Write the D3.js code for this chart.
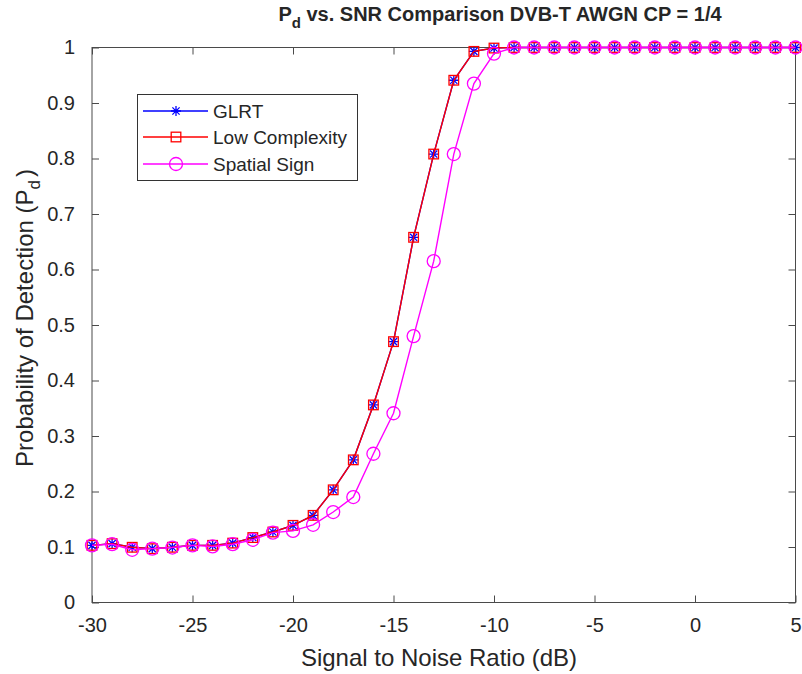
<!DOCTYPE html>
<html><head><meta charset="utf-8">
<script src="https://cdn.jsdelivr.net/npm/d3@7/dist/d3.min.js"></script>
<style>
body{margin:0;background:#fff}
svg{display:block}
text{font-family:"Liberation Sans",Arial,Helvetica,sans-serif;fill:#262626}
</style>
</head><body>
<svg id="chart" width="802" height="674"></svg>
<script>
// ---- data ----
const snrDb = [-30,-29,-28,-27,-26,-25,-24,-23,-22,-21,-20,-19,-18,-17,-16,-15,-14,-13,-12,-11,-10,-9,-8,-7,-6,-5,-4,-3,-2,-1,0,1,2,3,4,5];
const glrt = [0.103,0.106,0.0995,0.097,0.0995,0.103,0.103,0.107,0.117,0.127,0.139,0.157,0.203,0.257,0.356,0.470,0.658,0.808,0.941,0.993,0.999,1,1,1,1,1,1,1,1,1,1,1,1,1,1,1];
const lowComplexity = [0.103,0.106,0.0995,0.097,0.0995,0.103,0.103,0.107,0.117,0.127,0.139,0.157,0.203,0.257,0.356,0.470,0.658,0.808,0.941,0.993,0.999,1,1,1,1,1,1,1,1,1,1,1,1,1,1,1];
const spatialSign = [0.103,0.105,0.095,0.097,0.099,0.103,0.101,0.105,0.113,0.126,0.129,0.140,0.163,0.190,0.268,0.341,0.480,0.615,0.808,0.935,0.989,1,1,1,1,1,1,1,1,1,1,1,1,1,1,1];
const seriesNames = ["GLRT","Low Complexity","Spatial Sign"];
const xTicks = [-30,-25,-20,-15,-10,-5,0,5];
const yTicks = [0,0.1,0.2,0.3,0.4,0.5,0.6,0.7,0.8,0.9,1];

// ---- layout ----
const svg = d3.select("#chart");
const L = 92, R = 795.5, T = 47.5, B = 602.5;
const x = d3.scaleLinear().domain([-30,5]).range([L,R]);
const y = d3.scaleLinear().domain([0,1]).range([B,T]);
const axisColor = "#4a4a4a";
const tickFont = 20;

function styleAxis(g, showLabels){
  g.select(".domain").remove();
  g.selectAll(".tick line").attr("stroke",axisColor).attr("stroke-width",1);
  g.selectAll(".tick text").attr("fill","#262626").style("font-size",tickFont+"px")
    .style("font-family",'"Liberation Sans",Arial,Helvetica,sans-serif');
  if(!showLabels) g.selectAll(".tick text").remove();
}
const fmtY = d => d===0?"0":d===1?"1":d.toFixed(1);
const fmtX = d => String(d);

svg.append("g").attr("transform",`translate(0,${B})`)
  .call(d3.axisBottom(x).tickValues(xTicks).tickSizeInner(-7).tickSizeOuter(0).tickPadding(15).tickFormat(fmtX))
  .call(g=>styleAxis(g,true));
svg.append("g").attr("transform",`translate(0,${T})`)
  .call(d3.axisTop(x).tickValues(xTicks).tickSizeInner(-7).tickSizeOuter(0))
  .call(g=>styleAxis(g,false));
svg.append("g").attr("transform",`translate(${L},0)`)
  .call(d3.axisLeft(y).tickValues(yTicks).tickSizeInner(-7).tickSizeOuter(0).tickPadding(17).tickFormat(fmtY))
  .call(g=>styleAxis(g,true));
svg.append("g").attr("transform",`translate(${R},0)`)
  .call(d3.axisRight(y).tickValues(yTicks).tickSizeInner(-7).tickSizeOuter(0))
  .call(g=>styleAxis(g,false));

// box
svg.append("rect").attr("x",L).attr("y",T).attr("width",R-L).attr("height",B-T)
  .attr("fill","none").attr("stroke",axisColor).attr("stroke-width",1);

// ---- series ----
const line = d3.line().x((d,i)=>x(snrDb[i])).y(d=>y(d));
function asterisk(s){
  const d = s*0.72;
  return `M${-s},0L${s},0M0,${-s}L0,${s}M${-d},${-d}L${d},${d}M${-d},${d}L${d},${-d}`;
}
const series = [
  {name:seriesNames[0], vals:glrt, color:"#0000ff", marker:"star"},
  {name:seriesNames[1], vals:lowComplexity, color:"#ff0000", marker:"square"},
  {name:seriesNames[2], vals:spatialSign, color:"#ff00ff", marker:"circle"}
];
function drawMarker(g, type, color){
  if(type==="star") g.append("path").attr("d",asterisk(5)).attr("stroke",color).attr("stroke-width",1.3).attr("fill","none");
  else if(type==="square") g.append("rect").attr("x",-4.8).attr("y",-4.8).attr("width",9.6).attr("height",9.6).attr("stroke",color).attr("stroke-width",1.3).attr("fill","none");
  else g.append("circle").attr("r",6.5).attr("stroke",color).attr("stroke-width",1.3).attr("fill","none");
}
series.forEach(s=>{
  svg.append("path").datum(s.vals).attr("d",line).attr("fill","none").attr("stroke",s.color).attr("stroke-width",1.4);
  const mg = svg.append("g");
  s.vals.forEach((v,i)=>{
    const g = mg.append("g").attr("transform",`translate(${x(snrDb[i])},${y(v)})`);
    drawMarker(g, s.marker, s.color);
  });
});

// ---- legend ----
const lg = svg.append("g");
lg.append("rect").attr("x",137.5).attr("y",94.5).attr("width",220).attr("height",86)
  .attr("fill","#fff").attr("stroke","#333").attr("stroke-width",1);
const rowY = [111,137,164];
series.forEach((s,i)=>{
  lg.append("line").attr("x1",143).attr("x2",208).attr("y1",rowY[i]).attr("y2",rowY[i]).attr("stroke",s.color).attr("stroke-width",1.4);
  const g = lg.append("g").attr("transform",`translate(176,${rowY[i]})`);
  drawMarker(g, s.marker, s.color);
  lg.append("text").attr("x",213).attr("y",rowY[i]+7).style("font-size","19px").attr("fill","#000").text(s.name);
});

// ---- titles ----
const title = svg.append("text").attr("x",500).attr("y",21).attr("text-anchor","middle")
  .style("font-size","20px").style("font-weight","bold").attr("fill","#000");
title.append("tspan").text("P");
title.append("tspan").attr("dy",7).style("font-size","15px").text("d");
title.append("tspan").attr("dy",-7).text(" vs. SNR Comparison DVB-T AWGN CP = 1/4");

svg.append("text").attr("x",439).attr("y",666).attr("text-anchor","middle")
  .style("font-size","24px").text("Signal to Noise Ratio (dB)");

const yl = svg.append("text").attr("transform",`translate(33,318) rotate(-90)`).attr("text-anchor","middle")
  .style("font-size","24px");
yl.append("tspan").text("Probability of Detection (P");
yl.append("tspan").attr("dy",7).style("font-size","17px").text("d");
yl.append("tspan").attr("dy",-7).attr("dx",3).text(")");
</script>
</body></html>
